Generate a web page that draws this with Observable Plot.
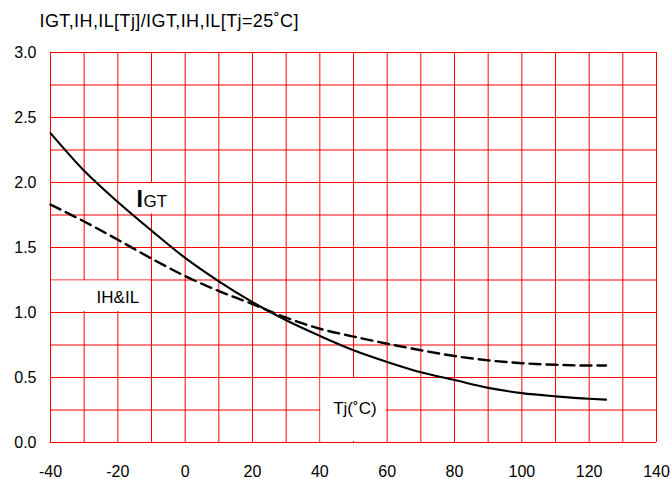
<!DOCTYPE html>
<html>
<head>
<meta charset="utf-8">
<script src="https://cdn.jsdelivr.net/npm/d3@7"></script>
<script src="https://cdn.jsdelivr.net/npm/@observablehq/plot@0.6"></script>
<style>
  html, body { margin: 0; padding: 0; background: #fff; }
  #chart svg { display: block; font-family: "Liberation Sans", Arial, sans-serif; }
</style>
</head>
<body>
<div id="chart"></div>
<script>
// ---- data ----
const tj = [-40, -30, -20, -10, 0, 10, 20, 30, 40, 50, 60, 70, 80, 90, 100, 110, 120, 125];
const igt = [2.38, 2.09, 1.85, 1.63, 1.42, 1.24, 1.08, 0.94, 0.82, 0.71, 0.62, 0.54, 0.48, 0.42, 0.38, 0.355, 0.336, 0.33];
const ihil = [1.83, 1.70, 1.56, 1.415, 1.28, 1.165, 1.065, 0.96, 0.875, 0.815, 0.76, 0.71, 0.665, 0.632, 0.61, 0.598, 0.592, 0.592];

const xTickLabels = [-40, -20, 0, 20, 40, 60, 80, 100, 120, 140];
const yTickLabels = [0, 0.5, 1.0, 1.5, 2.0, 2.5, 3.0];
const xGrid = [-40, -30, -20, -10, 0, 10, 20, 30, 40, 50, 60, 70, 80, 90, 100, 110, 120, 130, 140];
const yGrid = [0, 0.25, 0.5, 0.75, 1.0, 1.25, 1.5, 1.75, 2.0, 2.25, 2.5, 2.75, 3.0];

const titleText = "IGT,IH,IL[Tj]/IGT,IH,IL[Tj=25\u02DAC]";
// annotation anchors (data units) and the grid cells each label blanks out
const annText = ["IH&IL", "Tj(\u02DAC)"];
const annX = [-20, 50.4];
const annY = [1.075, 0.22];
const boxX1 = [-20, -40, 40];
const boxX2 = [0, -10, 60];
const boxY1 = [1.75, 1.0, 0];
const boxY2 = [2.0, 1.25, 0.5];

const series = tj.map((t, i) => ({t, v: igt[i]}));
const series2 = tj.map((t, i) => ({t, v: ihil[i]}));
const boxes = boxX1.map((x1, i) => ({x1, x2: boxX2[i], y1: boxY1[i], y2: boxY2[i]}));
const anns = annText.map((s, i) => ({s, x: annX[i], y: annY[i]}));

const plot = Plot.plot({
  width: 671,
  height: 479,
  marginLeft: 50,
  marginRight: 15,
  marginTop: 52,
  marginBottom: 37,
  style: {fontFamily: "'Liberation Sans', Arial, sans-serif", fontSize: "16px", color: "#000", background: "#fff"},
  x: {domain: [-40, 140]},
  y: {domain: [0, 3]},
  marks: [
    Plot.ruleX(xGrid, {x: d => d, y1: 0, y2: 3, stroke: "#ff0000", strokeWidth: 1}),
    Plot.ruleY(yGrid, {y: d => d, x1: -40, x2: 140, stroke: "#ff0000", strokeWidth: 1}),
    Plot.rect(boxes, {x1: "x1", x2: "x2", y1: "y1", y2: "y2", fill: "#fff", inset: 1}),
    Plot.axisX(xTickLabels, {tickSize: 0, tickPadding: 23, fontSize: 16, label: null, tickFormat: d => String(d)}),
    Plot.axisY(yTickLabels, {tickSize: 0, tickPadding: 14, fontSize: 16, label: null, tickFormat: d3.format(".1f")}),
    Plot.line(series2, {x: "t", y: "v", curve: "monotone-x", stroke: "#000", strokeWidth: 2.4, strokeDasharray: "11,6"}),
    Plot.line(series, {x: "t", y: "v", curve: "monotone-x", stroke: "#000", strokeWidth: 2.1}),
    Plot.text(anns, {x: "x", y: "y", text: "s", fontSize: 17, lineAnchor: "bottom", textAnchor: "middle", fill: "#000"}),
    Plot.text(["I"], {x: -14.45, y: 1.808, text: d => d, fontSize: 23, fontWeight: "bold", lineAnchor: "bottom", textAnchor: "start", fill: "#000"}),
    Plot.text(["GT"], {x: -12.37, y: 1.808, text: d => d, fontSize: 17, lineAnchor: "bottom", textAnchor: "start", fill: "#000"}),
    Plot.text([titleText], {frameAnchor: "top-left", dx: -11, dy: -25.5, text: d => d, fontSize: 18, lineAnchor: "bottom", textAnchor: "start", fill: "#000"})
  ]
});
d3.select(plot).selectAll("text")
  .filter(function() { return this.textContent === titleText; })
  .style("letter-spacing", "0.4px");
document.getElementById("chart").appendChild(plot);
</script>
</body>
</html>
